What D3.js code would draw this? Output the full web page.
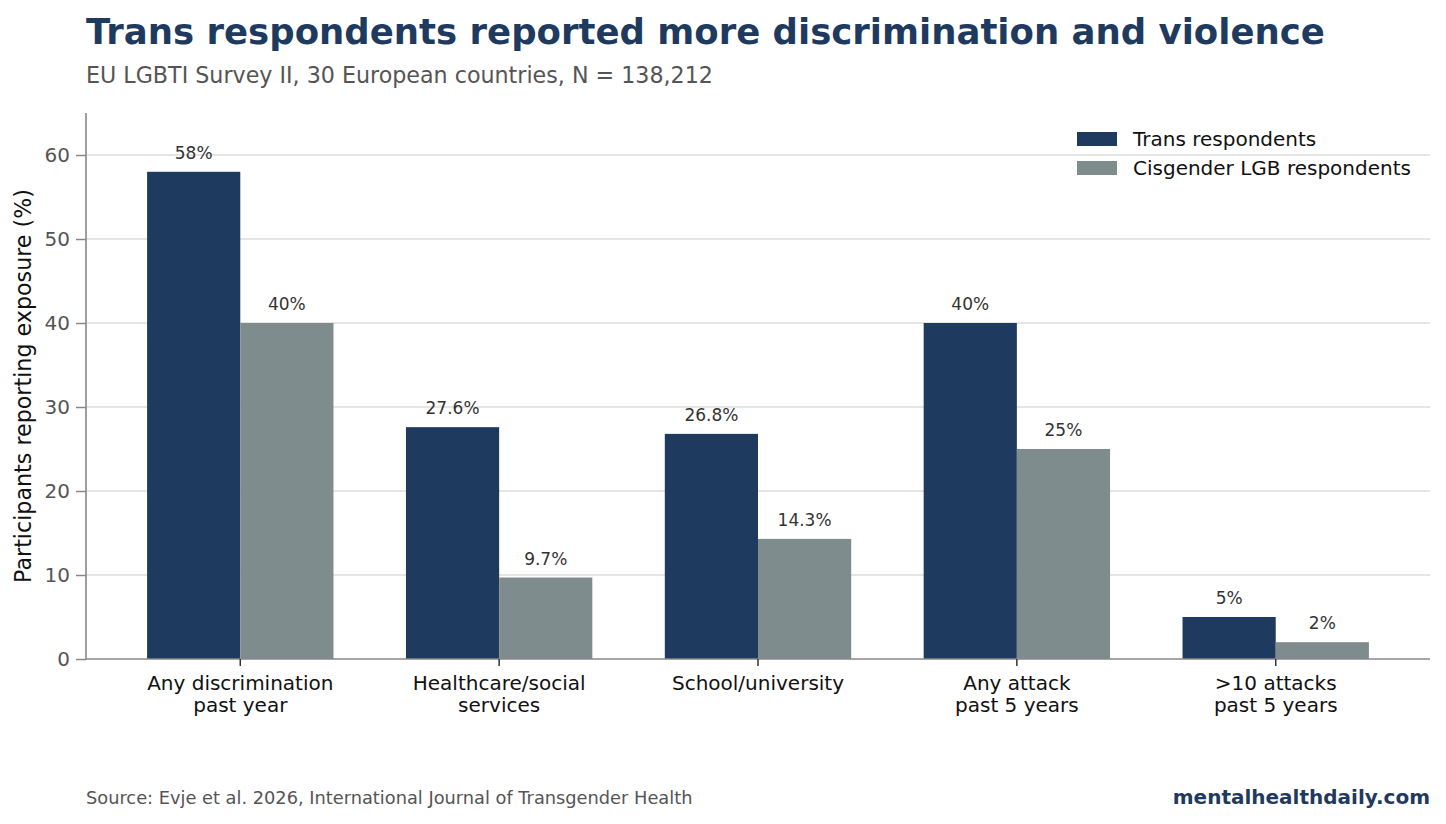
<!DOCTYPE html>
<html>
<head>
<meta charset="utf-8">
<script src="https://cdn.jsdelivr.net/npm/d3@7"></script>
<style>
  body { margin: 0; background: #fff; }
  svg { font-family: "DejaVu Sans", sans-serif; }
</style>
</head>
<body>
<svg id="chart" width="1446" height="824"></svg>
<script>
var categories = [
	['Any discrimination', 'past year'],
	['Healthcare/social', 'services'],
	['School/university'],
	['Any attack', 'past 5 years'],
	['>10 attacks', 'past 5 years']
];
var transValues = [58, 27.6, 26.8, 40, 5];
var cisValues = [40, 9.7, 14.3, 25, 2];
var transLabels = ['58%', '27.6%', '26.8%', '40%', '5%'];
var cisLabels = ['40%', '9.7%', '14.3%', '25%', '2%'];
var seriesNames = ['Trans respondents', 'Cisgender LGB respondents'];
var yTicks = [0, 10, 20, 30, 40, 50, 60];

var colors = ['#1f3a5f', '#7f8c8d'];
var svg = d3.select('#chart');

var mLeft = 86, mRight = 1430, mTop = 113, mBottom = 659;
var barFrac = 0.36;

var x = d3.scaleBand()
	.domain(d3.range(categories.length))
	.range([mLeft, mRight])
	.paddingInner(0)
	.paddingOuter(0.096);

var y = d3.scaleLinear()
	.domain([0, 65])
	.range([mBottom, mTop]);

var step = x.step();
var center = i => x(i) + step / 2;

// grid
svg.append('g')
	.selectAll('line')
	.data(yTicks.slice(1))
	.enter()
	.append('line')
		.attr('x1', mLeft).attr('x2', mRight)
		.attr('y1', d => y(d)).attr('y2', d => y(d))
		.attr('stroke', '#dddddd')
		.attr('stroke-width', 1.6);

// bars
var series = [
	{ values: transValues, labels: transLabels, offset: -barFrac, color: colors[0] },
	{ values: cisValues, labels: cisLabels, offset: 0, color: colors[1] }
];

series.forEach(s => {
	svg.append('g')
		.selectAll('rect')
		.data(s.values)
		.enter()
		.append('rect')
			.attr('x', (d, i) => center(i) + s.offset * step)
			.attr('y', d => y(d))
			.attr('width', barFrac * step)
			.attr('height', d => y(0) - y(d))
			.attr('fill', s.color);

	svg.append('g')
		.selectAll('text')
		.data(s.values)
		.enter()
		.append('text')
			.attr('x', (d, i) => center(i) + (s.offset + barFrac / 2) * step)
			.attr('y', d => y(d) - 13)
			.attr('text-anchor', 'middle')
			.attr('font-size', '17px')
			.attr('fill', '#333333')
			.text((d, i) => s.labels[i]);
});

// y axis
var yAxis = svg.append('g')
	.attr('transform', 'translate(' + mLeft + ',0)')
	.call(d3.axisLeft(y).tickValues(yTicks).tickSize(10).tickPadding(6));
yAxis.select('.domain').remove();
yAxis.selectAll('.tick line').attr('stroke', '#888888').attr('stroke-width', 1.5);
yAxis.selectAll('.tick text')
	.attr('font-family', '"DejaVu Sans", sans-serif')
	.attr('font-size', '20px')
	.attr('fill', '#555555');

// spines
svg.append('line')
	.attr('x1', mLeft).attr('x2', mLeft)
	.attr('y1', mTop).attr('y2', mBottom)
	.attr('stroke', '#888888').attr('stroke-width', 1.6);
svg.append('line')
	.attr('x1', mLeft).attr('x2', mRight)
	.attr('y1', mBottom).attr('y2', mBottom)
	.attr('stroke', '#888888').attr('stroke-width', 1.6);

// x ticks + labels
var xt = svg.append('g')
	.selectAll('g')
	.data(categories)
	.enter()
	.append('g')
		.attr('transform', (d, i) => 'translate(' + center(i) + ',' + mBottom + ')');
xt.append('line')
	.attr('y1', 0).attr('y2', 7)
	.attr('stroke', '#333333').attr('stroke-width', 1.5);
xt.append('text')
	.attr('text-anchor', 'middle')
	.attr('font-size', '20px')
	.attr('fill', '#111111')
	.selectAll('tspan')
	.data(d => d)
	.enter()
	.append('tspan')
		.attr('x', 0)
		.attr('y', (d, i) => 31 + i * 22)
		.text(d => d);

// y label
svg.append('text')
	.attr('transform', 'translate(31,' + ((mTop + mBottom) / 2) + ') rotate(-90)')
	.attr('text-anchor', 'middle')
	.attr('font-size', '22.2px')
	.attr('fill', '#111111')
	.text('Participants reporting exposure (%)');

// legend
var legend = svg.append('g')
	.selectAll('g')
	.data(seriesNames)
	.enter()
	.append('g')
		.attr('transform', (d, i) => 'translate(1077,' + (132 + i * 29) + ')');
legend.append('rect')
	.attr('width', 40).attr('height', 14)
	.attr('fill', (d, i) => colors[i]);
legend.append('text')
	.attr('x', 56).attr('y', 14)
	.attr('font-size', '20px')
	.attr('fill', '#111111')
	.text(d => d);

// titles
svg.append('text')
	.attr('x', mLeft).attr('y', 44)
	.attr('font-size', '35.5px')
	.attr('font-weight', 'bold')
	.attr('fill', '#1f3a5f')
	.text('Trans respondents reported more discrimination and violence');
svg.append('text')
	.attr('x', mLeft).attr('y', 83)
	.attr('font-size', '22.2px')
	.attr('fill', '#555555')
	.text('EU LGBTI Survey II, 30 European countries, N = 138,212');

// footer
svg.append('text')
	.attr('x', mLeft).attr('y', 804)
	.attr('font-size', '17.8px')
	.attr('fill', '#555555')
	.text('Source: Evje et al. 2026, International Journal of Transgender Health');
svg.append('text')
	.attr('x', mRight).attr('y', 804)
	.attr('text-anchor', 'end')
	.attr('font-size', '20px')
	.attr('font-weight', 'bold')
	.attr('fill', '#1f3a5f')
	.text('mentalhealthdaily.com');
</script>
</body>
</html>
